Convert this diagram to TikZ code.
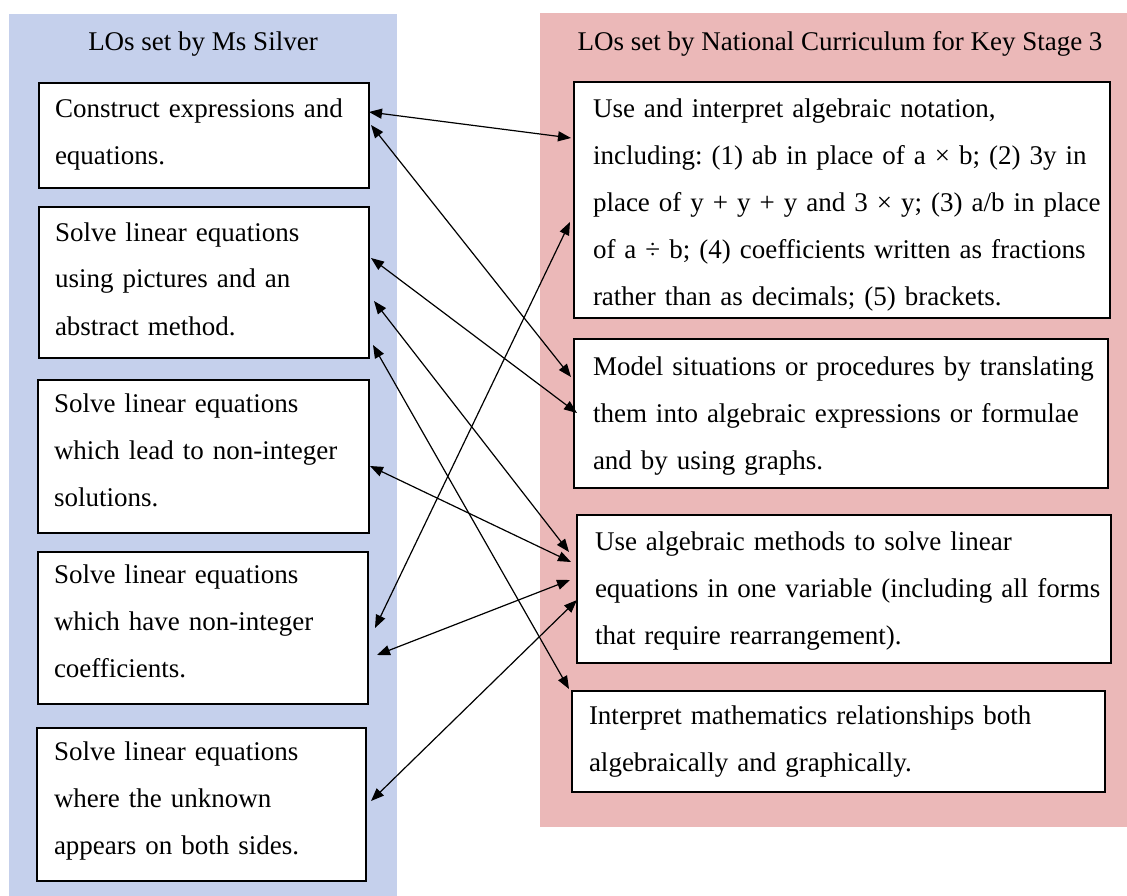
\documentclass[tikz,border=0pt]{standalone}
\usepackage{fontspec}
\setmainfont{Liberation Serif}
\usetikzlibrary{arrows.meta}
\definecolor{panelblue}{RGB}{197,208,236}
\definecolor{panelred}{RGB}{235,184,184}
% one unbreakable line of box text
\newcommand\boxline[1]{\mbox{#1}}
% invisible struts that fix the height of a first line / depth of a last line
\newcommand\headstrut[1]{\rule{0pt}{#1}}
\newcommand\footstrut[1]{\rule[-#1]{0pt}{#1}}
\begin{document}
\begin{tikzpicture}[x=1pt,y=-1pt,
  lobox/.style={draw=black, line width=1.5pt, fill=white, anchor=north west,
    align=left, inner ysep=0pt, outer sep=0pt,
    font=\fontsize{27pt}{47pt}\selectfont\frenchspacing},
  link/.style={{Triangle[length=13pt,width=10pt]}-{Triangle[length=13pt,width=10pt]},
    line width=1.2pt},
  heading/.style={anchor=base, inner sep=0pt, font=\fontsize{27pt}{32pt}\selectfont}]
\useasboundingbox (0,0) rectangle (1127,896);
\fill[white] (0,0) rectangle (1127,896);
% the two columns
\fill[panelblue] (9,14) rectangle (397,896);
\fill[panelred] (540,13) rectangle (1127,827);
\node[heading] (tL) at (203,51) {LOs set by Ms Silver};
\node[heading] (tR) at (840,51) {LOs set by National Curriculum for Key Stage 3};

% left column
\node[lobox, inner xsep=16pt, minimum width=330pt, minimum height=105pt, text width=298pt] (L1) at (39,83)
  {\boxline{\headstrut{28pt}Construct expressions and}\\
   \boxline{equations.\footstrut{16pt}}};
\node[lobox, inner xsep=16pt, minimum width=330pt, minimum height=151pt, text width=298pt] (L2) at (39,207)
  {\boxline{\headstrut{28pt}Solve linear equations}\\
   \boxline{using pictures and an}\\
   \boxline{abstract method.\footstrut{17pt}}};
\node[lobox, inner xsep=16pt, minimum width=331pt, minimum height=153pt, text width=299pt] (L3) at (38,380)
  {\boxline{\headstrut{25pt}Solve linear equations}\\
   \boxline{which lead to non-integer}\\
   \boxline{solutions.\footstrut{19pt}}};
\node[lobox, inner xsep=16pt, minimum width=330pt, minimum height=152pt, text width=298pt] (L4) at (38,552)
  {\boxline{\headstrut{24pt}Solve linear equations}\\
   \boxline{which have non-integer}\\
   \boxline{coefficients.\footstrut{20pt}}};
\node[lobox, inner xsep=17pt, minimum width=329pt, minimum height=153pt, text width=295pt] (L5) at (37,728)
  {\boxline{\headstrut{25pt}Solve linear equations}\\
   \boxline{where the unknown}\\
   \boxline{appears on both sides.\footstrut{19pt}}};

% right column
\node[lobox, inner xsep=19pt, minimum width=536pt, minimum height=236pt, text width=498pt] (R1) at (574,82)
  {\boxline{\headstrut{33pt}Use and interpret algebraic notation,}\\
   \boxline{including: (1) ab in place of a × b; (2) 3y in}\\
   \boxline{place of y + y + y and 3 × y; (3) a/b in place}\\
   \boxline{of a ÷ b; (4) coefficients written as fractions}\\
   \boxline{rather than as decimals; (5) brackets.\footstrut{10pt}}};
\node[lobox, inner xsep=19pt, minimum width=534pt, minimum height=149pt, text width=496pt] (R2) at (574,339)
  {\boxline{\headstrut{28pt}Model situations or procedures by translating}\\
   \boxline{them into algebraic expressions or formulae}\\
   \boxline{and by using graphs.\footstrut{11pt}}};
\node[lobox, inner xsep=18pt, minimum width=534pt, minimum height=148pt, text width=498pt] (R3) at (577,515)
  {\boxline{\headstrut{26pt}Use algebraic methods to solve linear}\\
   \boxline{equations in one variable (including all forms}\\
   \boxline{that require rearrangement).\footstrut{10pt}}};
\node[lobox, inner xsep=17pt, minimum width=533pt, minimum height=101pt, text width=499pt] (R4) at (572,691)
  {\boxline{\headstrut{24pt}Interpret mathematics relationships both}\\
   \boxline{algebraically and graphically.\footstrut{12pt}}};

% links between the two sets of objectives
\draw[link] ([shift={(0,29)}]L1.north east)  -- ([shift={(-3,56)}]R1.north west);
\draw[link] ([shift={(2,42)}]L1.north east)  -- ([shift={(-3,38)}]R2.north west);
\draw[link] ([shift={(2,51)}]L2.north east)  -- ([shift={(3,74)}]R2.north west);
\draw[link] ([shift={(5,94)}]L2.north east)  -- ([shift={(-8,37)}]R3.north west);
\draw[link] ([shift={(4,138)}]L2.north east) -- ([shift={(-3,-2)}]R4.north west);
\draw[link] ([shift={(1,86)}]L3.north east)  -- ([shift={(-6,47)}]R3.north west);
\draw[link] ([shift={(7,76)}]L4.north east)  -- ([shift={(-4,140)}]R1.north west);
\draw[link] ([shift={(9,103)}]L4.north east) -- ([shift={(-7,65)}]R3.north west);
\draw[link] ([shift={(5,73)}]L5.north east)  -- ([shift={(0,85)}]R3.north west);
\end{tikzpicture}
\end{document}
